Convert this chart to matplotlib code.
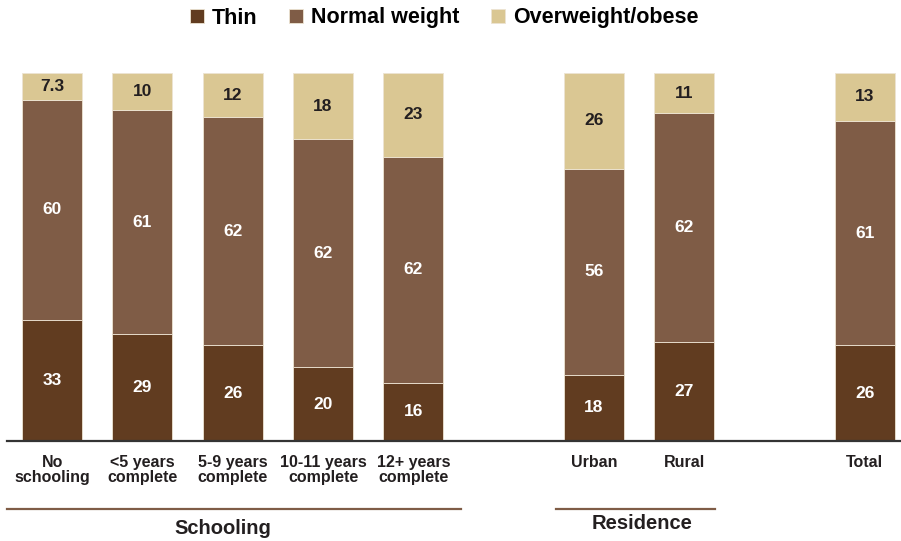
import numpy as np
import matplotlib.pyplot as plt
import matplotlib.transforms as mtransforms

plt.rcParams['font.family'] = ['Liberation Sans', 'DejaVu Sans']
plt.rcParams['font.weight'] = 'bold'

# Data
categories = ["No\nschooling", "<5 years\ncomplete", "5-9 years\ncomplete",
              "10-11 years\ncomplete", "12+ years\ncomplete",
              "Urban", "Rural", "Total"]
thin = [33, 29, 26, 20, 16, 18, 27, 26]
normal = [60, 61, 62, 62, 62, 56, 62, 61]
overweight = [7.3, 10, 12, 18, 23, 26, 11, 13]
series_names = ["Thin", "Normal weight", "Overweight/obese"]
groups = ["Schooling", "Residence"]

positions = np.array([0, 1, 2, 3, 4, 6, 7, 9])
colors = ["#613C20", "#7F5C46", "#DAC793"]
text_colors = ["white", "white", "#231F20"]

fig = plt.figure(figsize=(9.01, 5.41), dpi=100)
ax = fig.add_axes([7 / 901, 1 - 441 / 541, 894 / 901, 368 / 541])

# bars are shown as shares of 100% (labels keep the rounded values)
series = np.array([thin, normal, overweight], dtype=float)
shares = series / series.sum(axis=0) * 100

bottom = np.zeros(len(thin))
handles = []
for vals, h, col, tcol, name in zip(series, shares, colors, text_colors, series_names):
    bars = ax.bar(positions, h, width=0.665, bottom=bottom, color=col,
                  edgecolor="#EDE4D3", linewidth=0.6, clip_on=False, label=name)
    handles.append(bars)
    for x, b, hh, v in zip(positions, bottom, h, vals):
        ax.text(x, b + hh / 2, f"{v:g}", ha="center", va="center",
                color=tcol, fontsize=12.5, fontweight="bold")
    bottom += h

ax.set_xlim(-0.5, 9.40)
ax.set_ylim(0, 100)
ax.set_yticks([])
ax.set_xticks(positions)
ax.set_xticklabels(categories, fontsize=11.5, fontweight="bold", color="#231F20",
                   linespacing=1.0)
ax.tick_params(axis="x", length=0, pad=10)
for s in ["top", "right", "left"]:
    ax.spines[s].set_visible(False)
ax.spines["bottom"].set_color("#333333")
ax.spines["bottom"].set_linewidth(1.6)

# Group brackets
trans = mtransforms.blended_transform_factory(ax.transData, ax.transAxes)
group_extents = {"Schooling": (-0.5, 4.53, 1.89, -0.238),
                 "Residence": (5.575, 7.34, 6.53, -0.224)}
for name in groups:
    x0, x1, tx, ty = group_extents[name]
    ax.plot([x0, x1], [-0.185, -0.185], transform=trans, color="#7F5C46",
            linewidth=1.6, clip_on=False)
    ax.text(tx, ty, name, transform=trans, ha="center", va="center",
            fontsize=14.5, fontweight="bold", color="#231F20")

fig.legend(handles=handles, loc="center", bbox_to_anchor=(0.493, 1 - 18 / 541),
           ncol=3, frameon=False, handlelength=0.65, handleheight=0.65,
           handletextpad=0.35, columnspacing=1.5,
           prop={"weight": "bold", "size": 15.5})

fig.savefig("out.png", dpi=100)
